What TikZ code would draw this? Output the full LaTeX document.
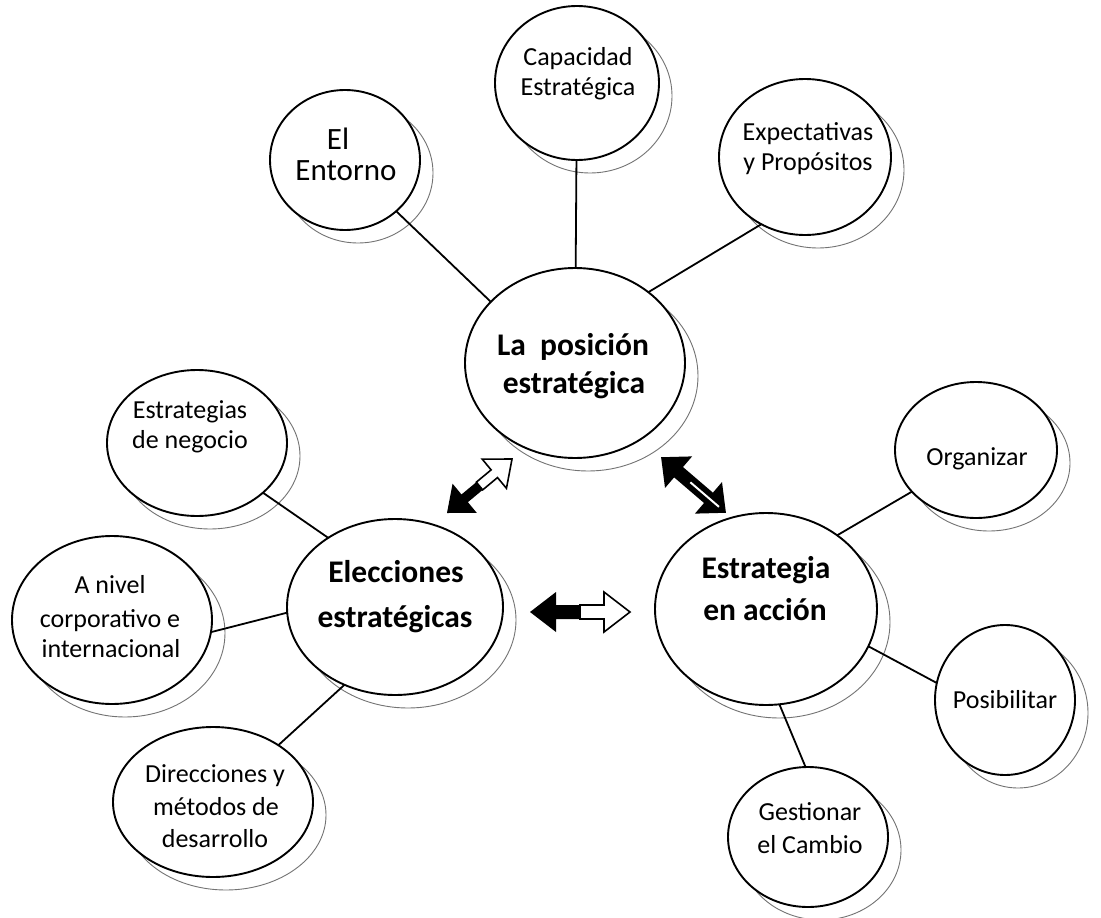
\documentclass[tikz,border=0pt]{standalone}
\usepackage{fontspec}
\setmainfont{Carlito}
\usetikzlibrary{shapes.geometric}

\tikzset{
  bub/.style={ellipse, draw=black, line width=1.9pt, fill=white, inner sep=0pt, outer sep=0pt},
  shd/.style={draw=black!55, line width=0.9pt},
  conn/.style={draw=black, line width=1.8pt},
  lbl/.style={font=\fontsize{26}{30}\selectfont, inner sep=0pt, anchor=base},
  lblbig/.style={font=\fontsize{31}{30}\selectfont, inner sep=0pt, anchor=base},
  lblb/.style={font=\fontsize{31.5}{38}\selectfont\bfseries, inner sep=0pt, anchor=base},
  % double block arrow: length, head half-width, shaft half-width, head length
  pics/dblarrow/.style n args={4}{code={
    \fill[black] (0,0) -- (#4,#2) -- (#4,#3) -- ({#1/2},#3) -- ({#1/2},-#3)
      -- (#4,-#3) -- (#4,-#2) -- cycle;
    \filldraw[fill=white, draw=black, line width=1.6pt, line join=miter]
      (#1,0) -- ({#1-#4},#2) -- ({#1-#4},#3) -- ({#1/2},#3) -- ({#1/2},-#3)
      -- ({#1-#4},-#3) -- ({#1-#4},-#2) -- cycle;
  }},
  pics/dblarrowdark/.style n args={4}{code={
    \filldraw[fill=black, draw=black, line width=1.6pt, line join=miter]
      (0,0) -- (#4,#2) -- (#4,#3) -- ({#1-#4},#3) -- ({#1-#4},#2) -- (#1,0)
      -- ({#1-#4},-#2) -- ({#1-#4},-#3) -- (#4,-#3) -- (#4,-#2) -- cycle;
    \draw[white, line width=2pt] ({#1*0.45},0) -- ({#1-8},0);
  }}
}

% bubble with an offset shadow outline: name, cx, cy, rx, ry
\newcommand\bubble[5]{%
  \draw[shd] (#2+13,#3+13) ellipse [x radius=#4pt, y radius=#5pt];
  \node[bub, minimum width=2*#4pt, minimum height=2*#5pt] (#1) at (#2,#3) {};%
}

\begin{document}
\begin{tikzpicture}[x=1pt,y=-1pt]
  \path[fill=white] (0,0) rectangle (1101,918);
  \useasboundingbox (0,0) rectangle (1101,918);

  % bubbles
  \bubble{ent}{345}{160}{75}{70}
  \bubble{cap}{577}{83}{82}{77}
  \bubble{exp}{805}{157}{86}{78}
  \bubble{pos}{575}{363}{110}{95}
  \bubble{neg}{197}{443}{90}{73}
  \bubble{aniv}{112}{620}{100}{84}
  \bubble{ele}{395}{607}{108}{88}
  \bubble{dir}{213}{802}{100}{75}
  \bubble{acc}{766}{609}{111}{96}
  \bubble{org}{976}{450}{81}{68}
  \bubble{posb}{1005}{700}{70}{75}
  \bubble{ges}{808}{837}{80}{70}

  % connectors
  \draw[conn] (ent.-45) -- (pos.144);
  \draw[conn] (cap) -- (pos);
  \draw[conn] (exp.-123) -- (pos.44);
  \draw[conn] (neg.-37) -- (ele.134);
  \draw[conn] (aniv.-7) -- (ele.-177);
  \draw[conn] (dir.41) -- (ele.-123);
  \draw[conn] (acc.46) -- (org.-147);
  \draw[conn] (acc.-20) -- (posb.166);
  \draw[conn] (acc.-82) -- (ges.92);

  % double arrows between the three main bubbles
  \coordinate (a1) at (447,513);
  \coordinate (a2) at (662,458);
  \coordinate (a3) at (530,612);
  \pic[rotate=39.7] at (a1) {dblarrow={84.5}{19}{5}{23}};
  \pic[rotate=-40.6] at (a2) {dblarrowdark={83}{19}{6}{21}};
  \pic at (a3) {dblarrow={100}{20}{7}{26}};

  % labels
  \node[lblbig] (ent-1) at (338,149) {El};
  \node[lblbig] (ent-2) at (346,180) {Entorno};
  \node[lbl] (cap-1) at (578,65) {Capacidad};
  \node[lbl] (cap-2) at (578,95) {Estratégica};
  \node[lbl] (exp-1) at (808,140) {Expectativas};
  \node[lbl] (exp-2) at (808,170) {y Propósitos};
  \node[lblb] (pos-1) at (573,355) {La~ posición};
  \node[lblb] (pos-2) at (574,393) {estratégica};
  \node[lbl] (neg-1) at (190,418) {Estrategias};
  \node[lbl] (neg-2) at (190,448) {de negocio};
  \node[lbl] (aniv-1) at (110,593) {A nivel};
  \node[lbl] (aniv-2) at (110,627) {corporativo e};
  \node[lbl] (aniv-3) at (111,657) {internacional};
  \node[lblb] (ele-1) at (396,582) {Elecciones};
  \node[lblb] (ele-2) at (395,627) {estratégicas};
  \node[lbl] (dir-1) at (215,782) {Direcciones y};
  \node[lbl] (dir-2) at (216,815) {métodos de};
  \node[lbl] (dir-3) at (215,847) {desarrollo};
  \node[lblb] (acc-1) at (766,578) {Estrategia};
  \node[lblb] (acc-2) at (765,620) {en acción};
  \node[lbl] (org-1) at (977,465) {Organizar};
  \node[lbl] (posb-1) at (1005,708) {Posibilitar};
  \node[lbl] (ges-1) at (810,820) {Gestionar};
  \node[lbl] (ges-2) at (810,853) {el Cambio};
\end{tikzpicture}
\end{document}
